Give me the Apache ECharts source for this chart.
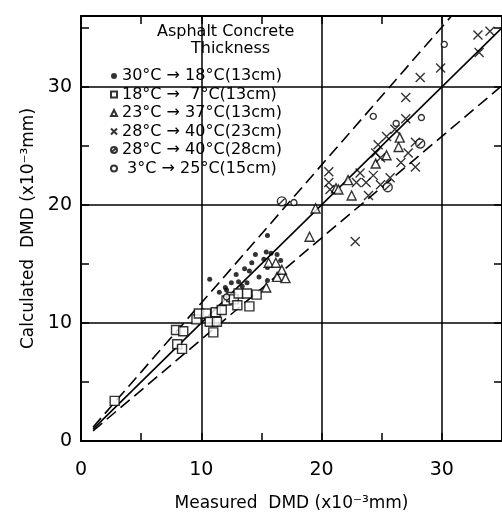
<!DOCTYPE html>
<html><head><meta charset="utf-8">
<script src="https://cdn.jsdelivr.net/npm/echarts@6/dist/echarts.min.js"></script>
<style>html,body{margin:0;padding:0;background:#fff}#c{width:502px;height:519px}</style>
</head><body><div id="c"></div>
<script>
// ---- data ----
const legendNames = [
  '30°C → 18°C(13cm)',
  '18°C →  7°C(13cm)',
  '23°C → 37°C(13cm)',
  '28°C → 40°C(23cm)',
  '28°C → 40°C(28cm)',
  ' 3°C → 25°C(15cm)'
];
const xTicks = [0, 10, 20, 30];
const yTicks = [0, 10, 20, 30];

const dots30to18 = [[10.7,13.7],[11.5,12.6],[12.1,12.8],[12.5,13.4],[12.9,14.1],[13.1,13.5],[13.4,13.1],[13.6,14.6],[13.8,13.4],[14.2,15.1],[14.5,15.8],[14.8,13.9],[15.2,15.4],[15.4,16.0],[15.5,17.4],[15.5,14.7],[15.5,13.6],[15.8,15.9],[16.3,15.8],[16.6,15.3],[14.0,14.4],[12.0,13.0]];
const squares18to7 = [[2.8,3.4],[7.9,9.4],[8.5,9.3],[8.0,8.2],[8.4,7.8],[9.6,10.3],[9.8,10.8],[10.4,10.8],[10.7,10.1],[11.0,9.2],[11.2,10.9],[11.3,10.1],[11.7,11.1],[12.1,11.9],[12.5,12.2],[12.7,12.0],[13.0,11.5],[13.1,12.5],[13.8,12.5],[14.0,11.4],[14.6,12.4]];
const triangles23to37 = [[15.4,13.0],[15.6,15.1],[16.2,15.1],[16.3,13.9],[16.7,14.5],[17.0,13.8],[19.0,17.3],[19.5,19.7],[21.2,21.4],[21.4,21.3],[22.2,22.1],[22.5,20.8],[24.5,23.5],[25.4,24.2],[26.4,24.9],[26.5,25.7]];
const crosses28to40 = [[20.6,22.8],[20.6,21.9],[20.7,21.3],[22.8,16.9],[22.9,21.9],[23.2,22.7],[23.7,21.9],[23.9,20.8],[24.3,22.5],[24.5,24.4],[24.7,25.1],[24.9,24.0],[24.9,21.7],[25.4,25.8],[25.7,22.3],[26.1,26.4],[26.6,23.6],[27.0,27.3],[27.0,29.1],[27.2,24.4],[27.8,25.3],[27.8,23.2],[28.2,30.8],[29.9,31.6],[33.0,34.4],[33.1,32.9],[34.0,34.7]];
const slashed28to40 = [[16.7,20.3],[25.5,21.5],[28.2,25.2]];
const circles3to25 = [[12.1,12.2],[17.7,20.2],[24.3,27.5],[26.2,26.9],[28.3,27.4],[30.2,33.6]];

const equalityLine = [[1,1],[35,35]];
const upperLine = [[1,1.17],[30.8,36]];
const lowerLine = [[1,0.86],[35,30.1]];

// ---- chart ----
const FONT = 'DejaVu Sans';
const crossPath = 'path://M0,0L10,10M10,0L0,10';
const slashCirclePath = 'path://M10,5A5,5,0,1,1,0,5A5,5,0,1,1,10,5ZM8.5,1.5L1.5,8.5';
const chart = echarts.init(document.getElementById('c'), null, {renderer:'canvas'});

const axisCommon = {
  type:'value', min:0, interval:10,
  axisLine:{show:true, onZero:false, lineStyle:{color:'#000', width:2}},
  axisTick:{show:true, inside:true, length:8, lineStyle:{color:'#000', width:1.5}},
  minorTick:{show:true, splitNumber:2, length:8, lineStyle:{color:'#000', width:1.5}},
  axisLabel:{color:'#000', fontFamily:FONT, fontSize:19},
  splitLine:{show:false}
};

function lineSeries(data, dashed){
  return {type:'line', data:data, symbol:'none', silent:true, z:1,
    lineStyle:{color:'#000', width:1.6, type: dashed ? [12,6] : 'solid'}};
}
function scat(name, data, symbol, size, open){
  return {type:'scatter', name:name, data:data, symbol:symbol, symbolSize:size, z:3,
    itemStyle: open ? {color:'#fff', borderColor:'#000', borderWidth:1.4} : {color:'#000'}};
}

chart.setOption({
  animation:false,
  backgroundColor:'#fff',
  grid:{left:81, top:16, width:424.5, height:425},
  xAxis:[
    Object.assign({}, axisCommon, {position:'bottom', max:35,
      axisLabel:Object.assign({}, axisCommon.axisLabel, {margin:20, customValues:xTicks}),
      splitLine:{show:true, lineStyle:{color:'#000', width:1.5}},
      name:'Measured  DMD (x10⁻³mm)', nameLocation:'middle', nameGap:54,
      nameTextStyle:{color:'#000', fontFamily:FONT, fontSize:17}}),
    Object.assign({}, axisCommon, {position:'top', max:35, axisLabel:{show:false}})
  ],
  yAxis:[
    Object.assign({}, axisCommon, {position:'left', max:36,
      axisLabel:Object.assign({}, axisCommon.axisLabel, {margin:9, customValues:yTicks}),
      splitLine:{show:true, lineStyle:{color:'#000', width:1.5}},
      name:'Calculated  DMD (x10⁻³mm)', nameLocation:'middle', nameGap:44, nameRotate:90,
      nameTextStyle:{color:'#000', fontFamily:FONT, fontSize:17}}),
    Object.assign({}, axisCommon, {position:'right', max:36, axisLabel:{show:false}})
  ],
  legend:{
    orient:'vertical', left:105, top:63, itemWidth:6, itemHeight:6, itemGap:2.5,
    textStyle:{color:'#000', fontFamily:FONT, fontSize:16, lineHeight:16},
    data:legendNames
  },
  graphic:[
    {type:'text', left:157, top:24, style:{text:'Asphalt Concrete', fill:'#000', font:'16px "DejaVu Sans"'}},
    {type:'text', left:191, top:41, style:{text:'Thickness', fill:'#000', font:'16px "DejaVu Sans"'}}
  ],
  series:[
    lineSeries(equalityLine,false),
    lineSeries(upperLine,true),
    lineSeries(lowerLine,true),
    scat(legendNames[0], dots30to18, 'circle', 5, false),
    scat(legendNames[1], squares18to7, 'rect', 9, true),
    scat(legendNames[2], triangles23to37, 'triangle', 9, true),
    scat(legendNames[3], crosses28to40, crossPath, 9, true),
    scat(legendNames[4], slashed28to40, slashCirclePath, 9, true),
    scat(legendNames[5], circles3to25, 'circle', 6, true)
  ]
});
</script></body></html>
